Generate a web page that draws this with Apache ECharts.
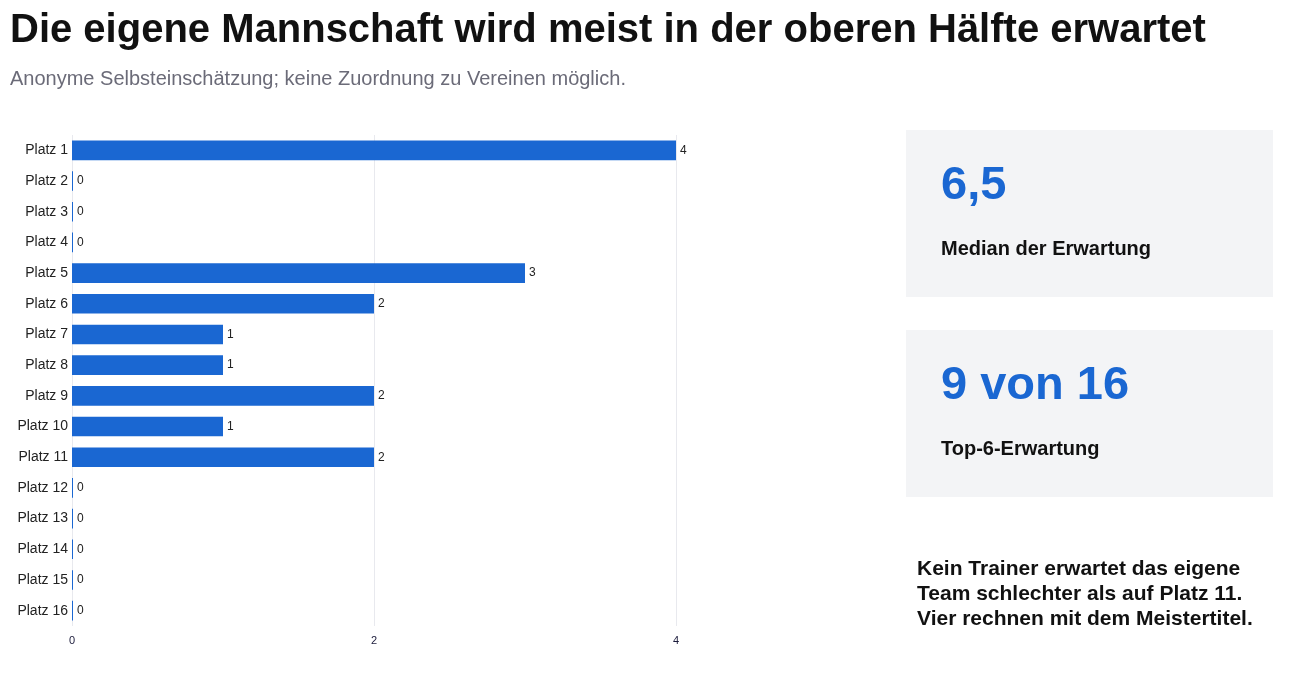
<!DOCTYPE html>
<html>
<head>
<meta charset="utf-8">
<script src="https://cdn.jsdelivr.net/npm/echarts@6/dist/echarts.min.js"></script>
<style>
  html, body { margin:0; padding:0; background:#fff; }
  #chart { width:1294px; height:675px; }
</style>
</head>
<body>
<div id="chart"></div>
<script>
const titleText = "Die eigene Mannschaft wird meist in der oberen Hälfte erwartet";
const subtitleText = "Anonyme Selbsteinschätzung; keine Zuordnung zu Vereinen möglich.";
const categories = ["Platz 1","Platz 2","Platz 3","Platz 4","Platz 5","Platz 6","Platz 7","Platz 8",
                    "Platz 9","Platz 10","Platz 11","Platz 12","Platz 13","Platz 14","Platz 15","Platz 16"];
const counts = [4,0,0,0,3,2,1,1,2,1,2,0,0,0,0,0];
const xTicks = [0,2,4];
const kpiValues = ["6,5","9 von 16"];
const kpiLabels = ["Median der Erwartung","Top-6-Erwartung"];
const noteLines = ["Kein Trainer erwartet das eigene","Team schlechter als auf Platz 11.","Vier rechnen mit dem Meistertitel."];

const FONT = "'Liberation Sans', Arial, sans-serif";
const BLUE = "#1a67d2";
const chart = echarts.init(document.getElementById("chart"));

const cards = [];
kpiValues.forEach((v,i)=>{
  const top = 130 + i*200;
  cards.push({ type:"rect", left:906, top:top, shape:{ width:367, height:167 }, style:{ fill:"#f3f4f6" }, silent:true });
  cards.push({ type:"text", left:941, top:top+33, style:{ text:v, fill:BLUE, font:"bold 47px "+FONT } });
  cards.push({ type:"text", left:941, top:top+109, style:{ text:kpiLabels[i], fill:"#111", font:"bold 20px "+FONT } });
});

chart.setOption({
  animation:false,
  title:[
    { text:titleText, left:5, top:6, textStyle:{ fontFamily:FONT, fontSize:40, fontWeight:"bold", color:"#111" } },
    { text:subtitleText, left:5, top:64, textStyle:{ fontFamily:FONT, fontSize:20, fontWeight:"normal", color:"#6b6b78" } }
  ],
  grid:{ left:72, top:135, width:604, height:491, containLabel:false },
  xAxis:{ type:"value", min:0, max:4, interval:2,
    axisLine:{ show:false }, axisTick:{ show:false },
    splitLine:{ lineStyle:{ color:"#e8e9ee", width:1 } },
    axisLabel:{ color:"#1a1a3a", fontSize:11, fontFamily:FONT, margin:9,
      formatter:(v)=> xTicks.includes(v) ? String(v) : "" } },
  yAxis:{ type:"category", data:categories, inverse:true,
    axisLine:{ show:false }, axisTick:{ show:false }, splitLine:{ show:false },
    axisLabel:{ color:"#222", fontSize:14, fontFamily:FONT, margin:4 } },
  series:[{ type:"bar", data:counts, barWidth:"64%", barMinHeight:1,
    itemStyle:{ color:BLUE },
    label:{ show:true, position:"right", distance:4, color:"#222", fontSize:12, fontFamily:FONT } }],
  graphic:[
    ...cards,
    { type:"text", left:917, top:557, style:{ text:noteLines.join("\n"), fill:"#111", font:"bold 21px "+FONT, lineHeight:25 } }
  ]
});
window.addEventListener("resize", ()=>chart.resize());
</script>
</body>
</html>
